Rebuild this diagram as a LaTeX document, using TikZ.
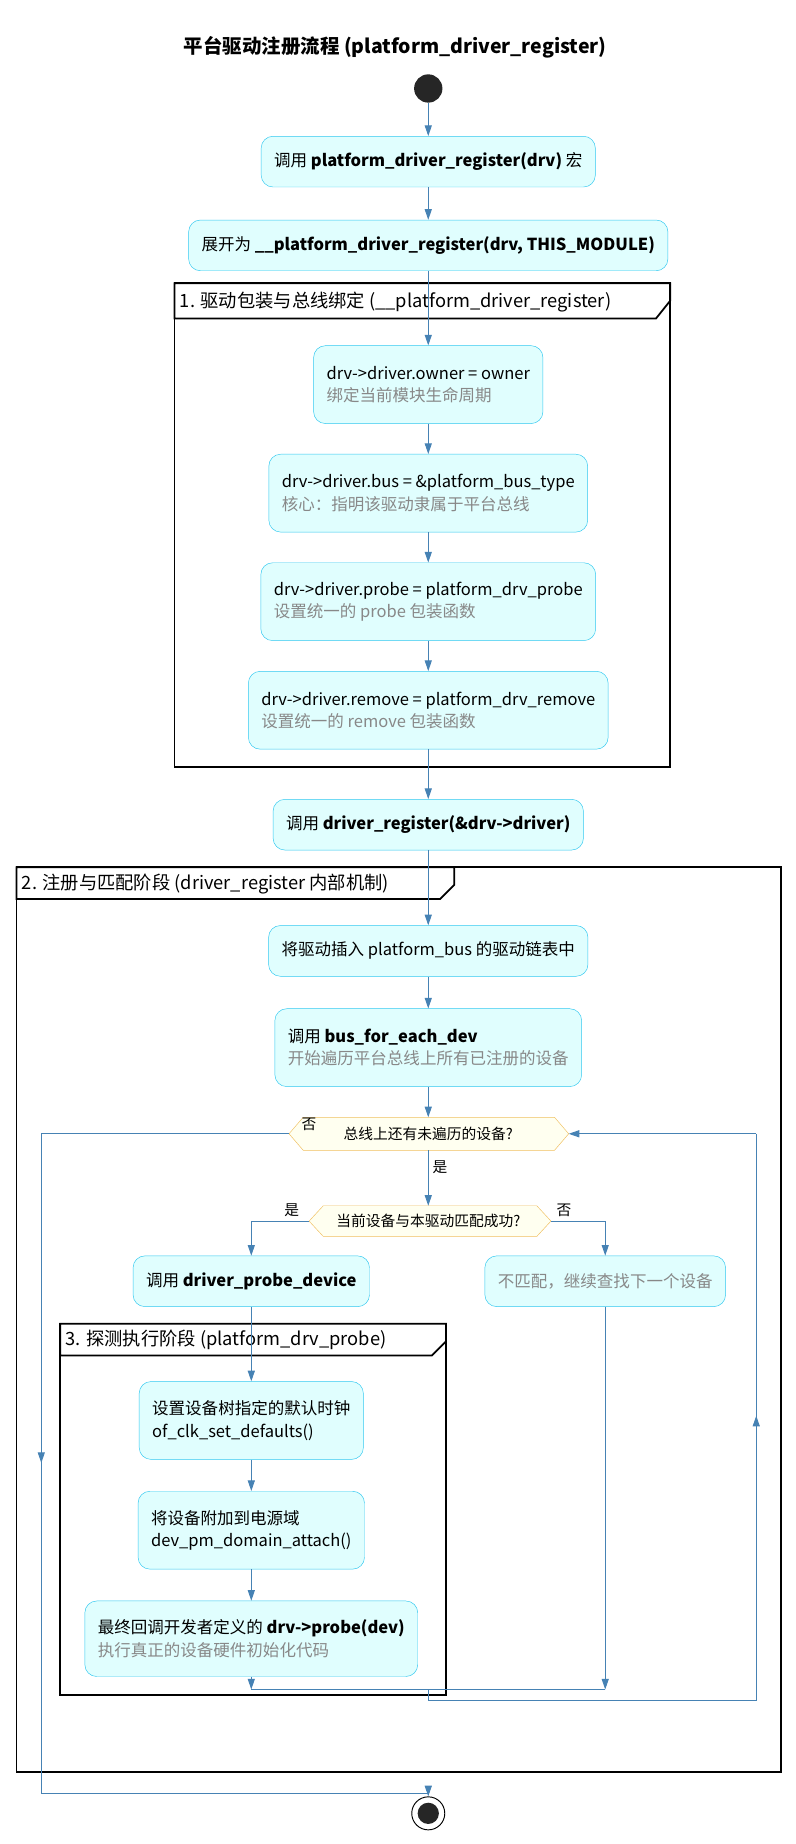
\documentclass[tikz,border=0pt]{standalone}
\usepackage{fontspec}
\setmainfont{Noto Sans CJK SC}
\usetikzlibrary{arrows.meta,calc}
\definecolor{boxfill}{HTML}{E0FEFE}
\definecolor{boxline}{HTML}{30C8F0}
\definecolor{flow}{HTML}{4682B4}
\definecolor{decfill}{HTML}{FFFFF0}
\definecolor{decline}{HTML}{F0C060}
\definecolor{note}{HTML}{888888}
\tikzset{
 act/.style={draw=boxline,fill=boxfill,rounded corners=10pt,inner xsep=11pt,minimum height=43pt,align=left,font=\fontsize{14}{19}\selectfont},
 flowline/.style={draw=flow,thick,-{Triangle[length=9pt,width=6pt]}},
 plain/.style={draw=flow,thick},
 frame/.style={draw=black,line width=1.5pt},
 lbl/.style={font=\fontsize{12.5}{14}\selectfont}
}
\newcommand{\sub}[1]{\\{\color{note}#1}}
\begin{document}
\begin{tikzpicture}[x=1pt,y=-1pt]
 \useasboundingbox (0,0) rectangle (674,1563);

 \node (title) at (335,40) {\fontsize{16.5}{18}\selectfont\bfseries 平台驱动注册流程 (platform\_driver\_register)};
 \node (start) [circle,fill=black!85,minimum size=24pt,inner sep=0pt] at (363,75) {};

 \node (call)   [act] at (363,137) {调用 \textbf{platform\_driver\_register(drv)} 宏};
 \node (expand) [act] at (363,208) {展开为 \textbf{\_\_platform\_driver\_register(drv, THIS\_MODULE)}};

 % group 1
 \draw[frame] (148,240) rectangle (568,650);
 \draw[frame,fill=white] (148,240) -- (568,240) -- (568,255) -- (556,270) -- (148,270) -- cycle;
 \node[anchor=west,font=\fontsize{15.5}{17}\selectfont] at (149,256) {1. 驱动包装与总线绑定 (\_\_platform\_driver\_register)};

 \node (owner)  [act,minimum height=66pt] at (363,326) {drv->driver.owner = owner\sub{绑定当前模块生命周期}};
 \node (bus)    [act,minimum height=66pt] at (363,418) {drv->driver.bus = \&platform\_bus\_type\sub{核心：指明该驱动隶属于平台总线}};
 \node (probe)  [act,minimum height=66pt] at (363,510) {drv->driver.probe = platform\_drv\_probe\sub{设置统一的 probe 包装函数}};
 \node (remove) [act,minimum height=66pt] at (363,602) {drv->driver.remove = platform\_drv\_remove\sub{设置统一的 remove 包装函数}};

 \node (drvreg) [act] at (363,699) {调用 \textbf{driver\_register(\&drv->driver)}};

 % group 2
 \draw[frame] (14,735) rectangle (662,1502);
 \draw[frame,fill=white] (14,735) -- (385,735) -- (385,750) -- (373,762) -- (14,762) -- cycle;
 \node[anchor=west,font=\fontsize{15.5}{17}\selectfont] at (15,749) {2. 注册与匹配阶段 (driver\_register 内部机制)};

 \node (insert) [act] at (363,806) {将驱动插入 platform\_bus 的驱动链表中};
 \node (each)   [act,minimum height=66pt] at (363,888) {调用 \textbf{bus\_for\_each\_dev}\sub{开始遍历平台总线上所有已注册的设备}};

 \draw[draw=decline,fill=decfill] (245,961) -- (257,947) -- (470,947) -- (482,961) -- (470,975) -- (257,975) -- cycle;
 \node (more) [lbl] at (363,961) {总线上还有未遍历的设备?};
 \draw[draw=decline,fill=decfill] (262,1035) -- (274,1022) -- (455,1022) -- (467,1035) -- (455,1048) -- (274,1048) -- cycle;
 \node (match) [lbl] at (363,1035) {当前设备与本驱动匹配成功?};

 \node (probedev) [act] at (213,1086) {调用 \textbf{driver\_probe\_device}};
 \node (nomatch)  [act,text=note] at (513,1086) {不匹配，继续查找下一个设备};

 % group 3
 \draw[frame] (51,1122) rectangle (378,1437);
 \draw[frame,fill=white] (51,1122) -- (378,1122) -- (378,1137) -- (366,1149) -- (51,1149) -- cycle;
 \node[anchor=west,font=\fontsize{15.5}{17}\selectfont] at (52,1136) {3. 探测执行阶段 (platform\_drv\_probe)};

 \node (clk)    [act,minimum height=66pt] at (213,1204) {设置设备树指定的默认时钟\\of\_clk\_set\_defaults()};
 \node (pm)     [act,minimum height=66pt] at (213,1297) {将设备附加到电源域\\dev\_pm\_domain\_attach()};
 \node (cb)     [act,minimum height=64pt] at (213,1389) {最终回调开发者定义的 \textbf{drv->probe(dev)}\sub{执行真正的设备硬件初始化代码}};

 \node (stop) [circle,draw=black,thick,minimum size=28pt,inner sep=0pt] at (363,1537) {};
 \fill[black!85] (stop) circle (9pt);

 \coordinate (mleft)  at (213,1432);
 \coordinate (mright) at (513,1432);
 \coordinate (mmid)   at (363,1432);

 \draw[flowline] (start) -- (call);
 \draw[flowline] (call) -- (expand);
 \draw[flowline] (expand) -- (owner);
 \draw[flowline] (owner) -- (bus);
 \draw[flowline] (bus) -- (probe);
 \draw[flowline] (probe) -- (remove);
 \draw[flowline] (remove) -- (drvreg);
 \draw[flowline] (drvreg) -- (insert);
 \draw[flowline] (insert) -- (each);
 \draw[flowline] (each) -- (363,947);
 \draw[flowline] (363,975) -- (363,1022) node[pos=0.3,right,lbl] {是};
 \draw[flowline] (262,1035) -| (probedev) node[pos=0.15,above,lbl] {是};
 \draw[flowline] (467,1035) -| (nomatch) node[pos=0.12,above,lbl] {否};
 \draw[flowline] (probedev) -- (clk);
 \draw[flowline] (clk) -- (pm);
 \draw[flowline] (pm) -- (cb);
 \draw[flowline] (cb) -- (mleft);
 \draw[flowline] (nomatch) -- (mright);
 \draw[plain] (mleft) -- (mright);
 \draw[plain] (mmid) -- (363,1441) -- (641,1441) -- (641,961);
 \draw[flowline] (641,1300) -- (641,1200);
 \draw[flowline] (641,961) -- (482,961);
 \draw[plain] (245,961) -- (35,961) -- (35,1520) -- (363,1520);
 \draw[flowline] (35,1180) -- (35,1240);
 \draw[flowline] (363,1520) -- (stop);
 \node[lbl] at (262,953) {否};
\end{tikzpicture}
\end{document}
